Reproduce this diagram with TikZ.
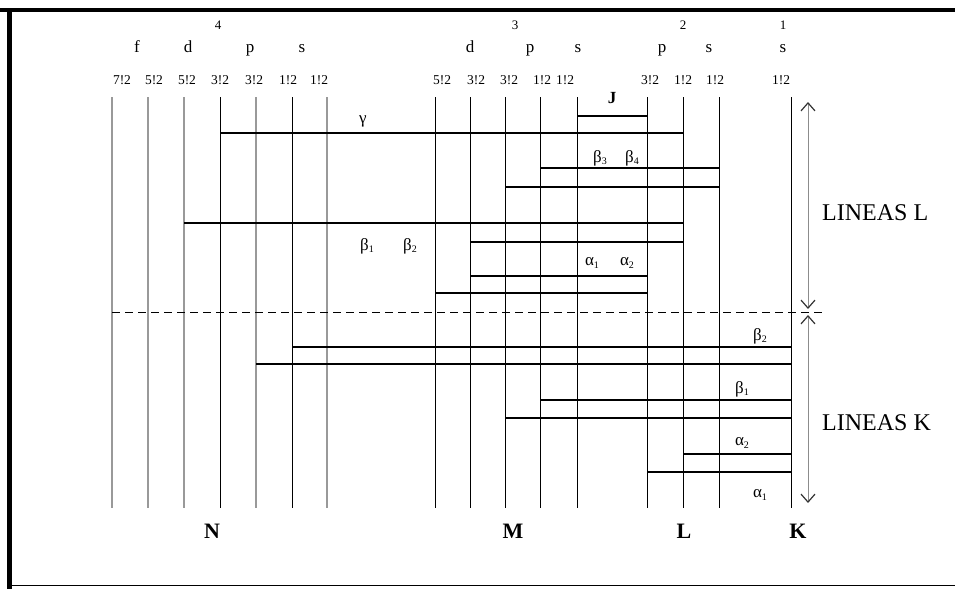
\documentclass[tikz,border=0pt]{standalone}
\usepackage{fontspec}
\setmainfont{Liberation Serif}
\usetikzlibrary{arrows.meta}
\newcommand{\gsub}[2]{#1\raisebox{-0.35ex}{\fontsize{10}{10}\selectfont #2}}
\begin{document}
\begin{tikzpicture}[x=1pt,y=-1pt,
  vline/.style={line width=1pt,black},
  gline/.style={line width=1.2pt,black!40},
  hthick/.style={line width=2pt,black},
  hthin/.style={line width=1.2pt,black},
  frac/.style={inner sep=0pt,font=\fontsize{13.5}{13.5}\selectfont},
  orb/.style={inner sep=0pt,font=\fontsize{17}{17}\selectfont},
  shell/.style={inner sep=0pt,font=\fontsize{13}{13}\selectfont},
  grk/.style={inner sep=0pt,font=\fontsize{17}{17}\selectfont},
  big/.style={inner sep=0pt,font=\fontsize{22}{22}\selectfont\bfseries},
  lin/.style={inner sep=0pt,font=\fontsize{24}{24}\selectfont},
  dimarrow/.style={line width=1pt,black!45,{Straight Barb[length=8pt,width=14pt,line width=1.2pt,color=black!80]}-{Straight Barb[length=8pt,width=14pt,line width=1.2pt,color=black!80]}}
]
\useasboundingbox (0,0) rectangle (955,589);
% frame
\fill[black] (0,8) rectangle (955,12);
\fill[black] (7,8) rectangle (12,589);
\draw[line width=1pt] (12,585) -- (955,585);
% vertical lines
\foreach \n/\x in {Nfa/112,Nfb/148,Nda/184,Npa/256,Nsa/327}{
  \coordinate (t\n) at (\x,97); \coordinate (b\n) at (\x,508);
  \draw[gline] (t\n) -- (b\n);}
\foreach \n/\x in {Ndb/220,Npb/292,Mda/435,Mdb/470,Mpa/505,Mpb/540,Msa/577,Lpa/647,Lpb/683,Lsa/719,Ksa/791}{
  \coordinate (t\n) at (\x,97); \coordinate (b\n) at (\x,508);
  \draw[vline] (t\n) -- (b\n);}
% y levels
\foreach \y in {116,133,168,187,223,242,276,293,347,364,400,418,454,472}
  \coordinate (y\y) at (0,\y);
% horizontal lines L
\draw[hthick] (tMsa |- y116) -- (tLpa |- y116);
\draw[hthick] (tNdb |- y133) -- (tLpb |- y133);
\draw[hthick] (tMpb |- y168) -- (tLsa |- y168);
\draw[hthick] (tMpa |- y187) -- (tLsa |- y187);
\draw[hthick] (tNda |- y223) -- (tLpb |- y223);
\draw[hthick] (tMdb |- y242) -- (tLpb |- y242);
\draw[hthick] (tMdb |- y276) -- (tLpa |- y276);
\draw[hthick] (tMda |- y293) -- (tLpa |- y293);
% dashed separator
\coordinate (dsA) at (112,312); \coordinate (dsB) at (826,312);
\draw[line width=1pt,dash pattern=on 8pt off 5pt] (dsA) -- (dsB);
% horizontal lines K
\draw[hthick] (tNpb |- y347) -- (tKsa |- y347);
\draw[hthick] (tNpa |- y364) -- (tKsa |- y364);
\draw[hthin]  (tMpb |- y400) -- (tKsa |- y400);
\draw[hthick] (tMpa |- y418) -- (tKsa |- y418);
\draw[hthick] (tLpb |- y454) -- (tKsa |- y454);
\draw[hthin]  (tLpa |- y472) -- (tKsa |- y472);
% shell numbers
\node[shell] (n4) at (218,25) {4};
\node[shell] (n3) at (515,25) {3};
\node[shell] (n2) at (683,25) {2};
\node[shell] (n1) at (783,25) {1};
% orbitals
\foreach \n/\x/\t in {o1/137/f,o2/188/d,o3/250/p,o4/302/s,o5/470/d,o6/530/p,o7/578/s,o8/662/p,o9/709/s,o10/783/s}
  \node[orb,anchor=base] (\n) at (\x,52) {\t};
% fractions
\foreach \n/\x/\t in {fa/122/7!2,fb/154/5!2,fc/187/5!2,fd/220/3!2,fe/254/3!2,ff/288/1!2,fg/319/1!2,
  fh/442/5!2,fi/476/3!2,fj/509/3!2,fk/542/1!2,fl/565/1!2,fm/650/3!2,fn/683/1!2,fo/715/1!2,fp/781/1!2}
  \node[frac,anchor=base] (\n) at (\x,84) {\t};
% greek labels
\node[orb,font=\fontsize{17}{17}\selectfont\bfseries] (J) at (612,98) {J};
\node[grk] (gam) at (363,121) {γ};
\node[grk] (b1u) at (367,246) {\gsub{β}{1}};
\node[grk] (b2u) at (410,246) {\gsub{β}{2}};
\node[grk] (b3u) at (600,158) {\gsub{β}{3}};
\node[grk] (b4u) at (632,158) {\gsub{β}{4}};
\node[grk] (a1u) at (592,263) {\gsub{α}{1}};
\node[grk] (a2u) at (627,263) {\gsub{α}{2}};
\node[grk] (b2k) at (760,336) {\gsub{β}{2}};
\node[grk] (b1k) at (742,389) {\gsub{β}{1}};
\node[grk] (a2k) at (742,443) {\gsub{α}{2}};
\node[grk] (a1k) at (760,495) {\gsub{α}{1}};
% shell letters
\node[big] (N) at (212,531) {N};
\node[big] (M) at (513,531) {M};
\node[big] (L) at (684,531) {L};
\node[big] (K) at (798,531) {K};
% arrows
\coordinate (aLt) at (808,102); \coordinate (aLb) at (808,309);
\coordinate (aKt) at (808,315); \coordinate (aKb) at (808,503);
\draw[dimarrow] (aLt) -- (aLb);
\draw[dimarrow] (aKt) -- (aKb);
\node[lin,anchor=west] (linL) at (822,213) {LINEAS L};
\node[lin,anchor=west] (linK) at (822,423) {LINEAS K};
\end{tikzpicture}
\end{document}
